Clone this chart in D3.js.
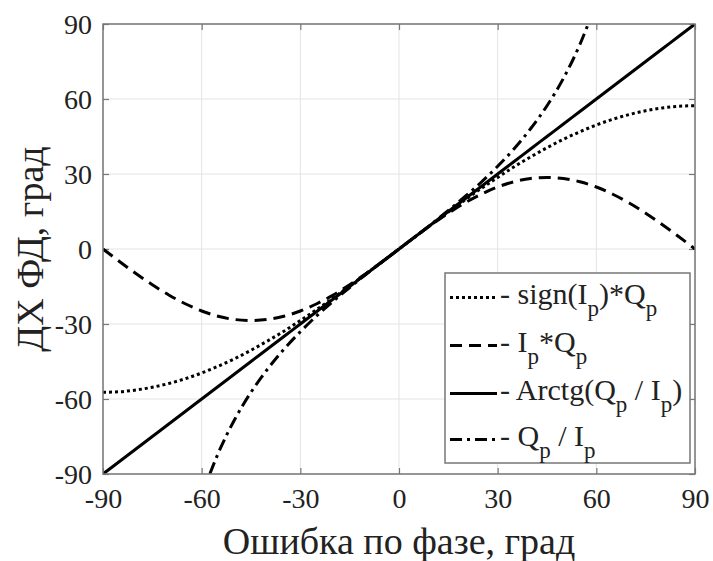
<!DOCTYPE html>
<html>
<head>
<meta charset="utf-8">
<script src="https://cdn.jsdelivr.net/npm/d3@7"></script>
<style>
  body { margin: 0; background: #fff; }
  svg text { font-family: "Liberation Serif", "Times New Roman", "DejaVu Serif", serif; fill: #222; }
</style>
</head>
<body>
<svg id="chart" width="713" height="561"></svg>
<script>
// ---- data ----
const phaseError = [-90,-85,-80,-75,-70,-65,-60,-55,-50,-45,-40,-35,-30,-25,-20,-15,-10,-5,0,5,10,15,20,25,30,35,40,45,50,55,60,65,70,75,80,85,90];
const signIpQp = [-57.3,-57.1,-56.4,-55.3,-53.8,-51.9,-49.6,-46.9,-43.9,-40.5,-36.8,-32.9,-28.6,-24.2,-19.6,-14.8,-9.9,-5.0,0,5.0,9.9,14.8,19.6,24.2,28.6,32.9,36.8,40.5,43.9,46.9,49.6,51.9,53.8,55.3,56.4,57.1,57.3];
const ipQp = [0,-5.0,-9.8,-14.3,-18.4,-21.9,-24.8,-26.9,-28.2,-28.6,-28.2,-26.9,-24.8,-21.9,-18.4,-14.3,-9.8,-5.0,0,5.0,9.8,14.3,18.4,21.9,24.8,26.9,28.2,28.6,28.2,26.9,24.8,21.9,18.4,14.3,9.8,5.0,0];
const arctg = [-90,-85,-80,-75,-70,-65,-60,-55,-50,-45,-40,-35,-30,-25,-20,-15,-10,-5,0,5,10,15,20,25,30,35,40,45,50,55,60,65,70,75,80,85,90];
const qpIpX = [-57.5,-55,-50,-45,-40,-35,-30,-25,-20,-15,-10,-5,0,5,10,15,20,25,30,35,40,45,50,55,57.5];
const qpIp = [-89.9,-81.8,-68.3,-57.3,-48.1,-40.1,-33.1,-26.7,-20.9,-15.4,-10.1,-5.0,0,5.0,10.1,15.4,20.9,26.7,33.1,40.1,48.1,57.3,68.3,81.8,89.9];
const ticks = [-90,-60,-30,0,30,60,90];
const xTitle = "Ошибка по фазе, град";
const yTitle = "ДХ ФД, град";

const FONT = "'Liberation Serif', 'Times New Roman', 'DejaVu Serif', serif";

// ---- layout ----
const svg = d3.select("#chart");
const L = 103, R = 695, T = 24, B = 474;
const x = d3.scaleLinear().domain([-90, 90]).range([L, R]);
const y = d3.scaleLinear().domain([-90, 90]).range([B, T]);
const axisColor = "#777";

// grid
const grid = svg.append("g");
ticks.forEach(t => {
  grid.append("line").attr("x1", x(t)).attr("x2", x(t)).attr("y1", T).attr("y2", B)
    .attr("stroke", "#e3e3e3").attr("stroke-width", 1);
  grid.append("line").attr("y1", y(t)).attr("y2", y(t)).attr("x1", L).attr("x2", R)
    .attr("stroke", "#e3e3e3").attr("stroke-width", 1);
});

// axes with inward ticks
const tickLen = 6;
const fmt = d => String(d);
const axB = svg.append("g").attr("transform", `translate(0,${B})`)
  .call(d3.axisBottom(x).tickValues(ticks).tickSizeInner(-tickLen).tickSizeOuter(0).tickPadding(14).tickFormat(fmt));
const axL = svg.append("g").attr("transform", `translate(${L},0)`)
  .call(d3.axisLeft(y).tickValues(ticks).tickSizeInner(-tickLen).tickSizeOuter(0).tickPadding(11).tickFormat(fmt));
const axT = svg.append("g").attr("transform", `translate(0,${T})`)
  .call(d3.axisTop(x).tickValues(ticks).tickSizeInner(-tickLen).tickSizeOuter(0).tickFormat(""));
const axR = svg.append("g").attr("transform", `translate(${R},0)`)
  .call(d3.axisRight(y).tickValues(ticks).tickSizeInner(-tickLen).tickSizeOuter(0).tickFormat(""));
[axB, axL, axT, axR].forEach(a => {
  a.attr("font-family", null).attr("font-size", null);
  a.select(".domain").remove();
  a.selectAll("line").attr("stroke", axisColor).attr("stroke-width", 1.2);
  a.selectAll("text").style("font-family", FONT).style("font-size", "28px").attr("fill", "#222");
});
axB.selectAll("text").attr("dy", "0.71em");
axL.selectAll("text").attr("dy", "0.35em");

// clip
svg.append("defs").append("clipPath").attr("id", "clip")
  .append("rect").attr("x", L).attr("y", T).attr("width", R - L).attr("height", B - T);

const lineGen = d3.line().x(d => x(d[0])).y(d => y(d[1])).curve(d3.curveMonotoneX);
const zip = (xs, ys) => xs.map((v, i) => [v, ys[i]]);

const series = [
  { data: zip(phaseError, signIpQp), dash: "3,3" },
  { data: zip(phaseError, ipQp), dash: "12,7" },
  { data: zip(phaseError, arctg), dash: null },
  { data: zip(qpIpX, qpIp), dash: "12,5,3,5" }
];
const plot = svg.append("g").attr("clip-path", "url(#clip)");
series.forEach(s => {
  plot.append("path").datum(s.data).attr("d", lineGen)
    .attr("fill", "none").attr("stroke", "#000").attr("stroke-width", 3)
    .attr("stroke-dasharray", s.dash);
});

// box
svg.append("rect").attr("x", L).attr("y", T).attr("width", R - L).attr("height", B - T)
  .attr("fill", "none").attr("stroke", axisColor).attr("stroke-width", 1.5);

// legend
const lg = svg.append("g");
lg.append("rect").attr("x", 445).attr("y", 273).attr("width", 245).attr("height", 190)
  .attr("fill", "#fff").attr("stroke", axisColor).attr("stroke-width", 1.5);
const legendRows = [
  { dash: "3,3", parts: [["- sign(I"], ["p", true], [")*Q"], ["p", true]] },
  { dash: "12,7", parts: [["- I"], ["p", true], ["*Q"], ["p", true]] },
  { dash: null, parts: [["- Arctg(Q"], ["p", true], [" / I"], ["p", true], [")"]] },
  { dash: "12,5,3,5", parts: [["- Q"], ["p", true], [" / I"], ["p", true]] }
];
const rowBase = [304, 352, 400, 446];
legendRows.forEach((r, i) => {
  const by = rowBase[i];
  lg.append("line").attr("x1", 450).attr("x2", 497).attr("y1", by - 6.5).attr("y2", by - 6.5)
    .attr("stroke", "#000").attr("stroke-width", 3).attr("stroke-dasharray", r.dash);
  const t = lg.append("text").attr("x", 500).attr("y", by)
    .style("font-family", FONT).style("font-size", "30px").attr("xml:space", "preserve");
  let down = false;
  r.parts.forEach(p => {
    const sub = !!p[1];
    const dy = sub ? (down ? 0 : 12) : (down ? -12 : 0);
    down = sub;
    t.append("tspan").text(p[0]).attr("dy", dy).style("font-size", sub ? "23px" : "30px");
  });
});

// titles
svg.append("text").attr("x", (L + R) / 2).attr("y", 554).attr("text-anchor", "middle")
  .style("font-family", FONT).style("font-size", "38px").text(xTitle);
svg.append("text").attr("transform", `translate(43,${(T + B) / 2}) rotate(-90)`)
  .attr("text-anchor", "middle").style("font-family", FONT).style("font-size", "38px").text(yTitle);
</script>
</body>
</html>
